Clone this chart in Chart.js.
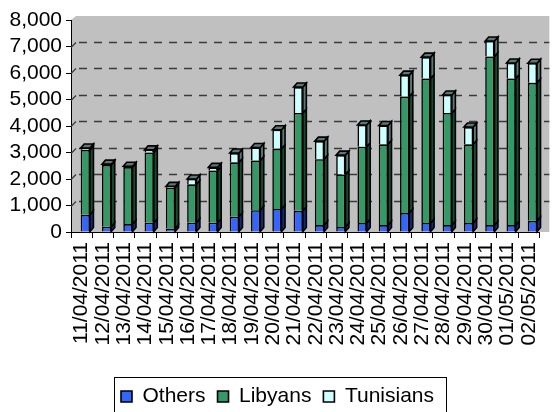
<!DOCTYPE html>
<html><head><meta charset="utf-8">
<script src="https://cdn.jsdelivr.net/npm/chart.js@4"></script>
<style>html,body{margin:0;padding:0;background:#fff;overflow:hidden;}</style>
</head><body>
<canvas id="c" width="558" height="417" style="display:block"></canvas>
<script>
const categories = ['11/04/2011','12/04/2011','13/04/2011','14/04/2011','15/04/2011','16/04/2011','17/04/2011','18/04/2011','19/04/2011','20/04/2011','21/04/2011','22/04/2011','23/04/2011','24/04/2011','25/04/2011','26/04/2011','27/04/2011','28/04/2011','29/04/2011','30/04/2011','01/05/2011','02/05/2011'];
const others    = [650,200,300,350,130,350,350,580,820,870,800,260,190,340,260,720,340,260,340,260,260,420];
const libyans   = [2450,2330,2150,2650,1540,1450,1970,2050,1880,2270,3690,2490,1980,2880,3050,4390,5450,4230,2970,6360,5530,5210];
const tunisians = [70,30,30,100,50,200,120,350,490,720,980,680,730,820,710,810,810,680,650,590,590,740];
const yTicks = [0,1000,2000,3000,4000,5000,6000,7000,8000];
const seriesNames = ['Others', 'Libyans', 'Tunisians'];

const FONT = '"Liberation Sans", Arial, sans-serif';
const DEPTH = 5;

const wallPlugin = {
  id: 'wall',
  beforeDraw(chart) {
    const {ctx, chartArea: a} = chart;
    ctx.save();
    ctx.fillStyle = '#C0C0C0';
    ctx.beginPath();
    ctx.moveTo(a.left, a.bottom);
    ctx.lineTo(a.left, a.top);
    ctx.lineTo(a.left + DEPTH, a.top - DEPTH + 1);
    ctx.lineTo(a.right + DEPTH + 5, a.top - DEPTH + 1);
    ctx.lineTo(a.right + DEPTH + 5, a.bottom);
    ctx.closePath();
    ctx.fill();
    ctx.restore();
  },
  beforeDatasetsDraw(chart) {
    const {ctx, chartArea: a} = chart;
    const ys = chart.scales.y;
    ctx.save();
    ctx.strokeStyle = '#3a3a3a';
    ctx.lineWidth = 1.3;
    yTicks.forEach(v => {
      if (v === 0 || v === yTicks[yTicks.length - 1]) return;
      const py = Math.round(ys.getPixelForValue(v)) + 0.5;
      ctx.setLineDash([]);
      ctx.beginPath();
      ctx.moveTo(a.left, py);
      ctx.lineTo(a.left + DEPTH, py - DEPTH);
      ctx.stroke();
      ctx.setLineDash([8, 7]);
      ctx.beginPath();
      ctx.moveTo(a.left + DEPTH + 3, py - DEPTH);
      ctx.lineTo(a.right + DEPTH + 5, py - DEPTH);
      ctx.stroke();
    });
    ctx.restore();
  }
};

const sideColors = {Others: '#15297a', Libyans: '#174a31', Tunisians: '#5c7777'};
const bar3dPlugin = {
  id: 'bar3d',
  afterDatasetsDraw(chart) {
    const {ctx} = chart;
    const ds = chart.data.datasets;
    const real = ds.map((d, i) => i).filter(i => ds[i].stack === 'main');
    const topIdx = real[real.length - 1];
    const dx = 3.5, dy = 4;
    ctx.save();
    ctx.lineWidth = 1.6;
    ctx.strokeStyle = '#000';
    ctx.lineJoin = 'miter';
    real.forEach(i => {
      const meta = chart.getDatasetMeta(i);
      meta.data.forEach(bar => {
        const p = bar.getProps(['x', 'y', 'base', 'width'], true);
        const l = p.x - p.width / 2, r = p.x + p.width / 2;
        ctx.fillStyle = sideColors[ds[i].label];
        ctx.beginPath();
        ctx.moveTo(r, p.base);
        ctx.lineTo(r, p.y);
        ctx.lineTo(r + dx, p.y - dy);
        ctx.lineTo(r + dx, p.base - dy);
        ctx.closePath();
        ctx.fill();
        ctx.stroke();
        if (i === topIdx) {
          ctx.beginPath();
          ctx.moveTo(l, p.y);
          ctx.lineTo(l + dx, p.y - dy);
          ctx.lineTo(r + dx, p.y - dy);
          ctx.lineTo(r, p.y);
          ctx.closePath();
          ctx.fill();
          ctx.stroke();
        }
      });
    });
    ctx.restore();
  }
};

const legendBoxPlugin = {
  id: 'legendBox',
  afterDraw(chart) {
    const lg = chart.legend;
    if (!lg || !lg.legendHitBoxes || !lg.legendHitBoxes.length) return;
    const hb = lg.legendHitBoxes;
    const first = hb[0], last = hb[hb.length - 1];
    const ctx = chart.ctx;
    ctx.save();
    ctx.strokeStyle = '#000';
    ctx.lineWidth = 1;
    const left = Math.round(first.left - 7.5) + 0.5;
    const right = Math.round(last.left + last.width + 12) + 0.5;
    const top = Math.round(first.top - 9) + 0.5;
    ctx.strokeRect(left, top, right - left, chart.height + 5 - top);
    ctx.restore();
  }
};

new Chart(document.getElementById('c'), {
  type: 'bar',
  data: {
    labels: categories,
    datasets: [
      // empty spacer stack so the 3D bars sit right of the category centre, as in the original depth view
      {label: '', stack: 'pad', data: categories.map(() => null), backgroundColor: 'rgba(0,0,0,0)', borderWidth: 0},
      {label: seriesNames[0], stack: 'main', data: others, backgroundColor: '#3366FF', borderColor: '#000', borderWidth: 1.6},
      {label: seriesNames[1], stack: 'main', data: libyans, backgroundColor: '#339966', borderColor: '#000', borderWidth: 1.6},
      {label: seriesNames[2], stack: 'main', data: tunisians, backgroundColor: '#CCFFFF', borderColor: '#000', borderWidth: 1.6}
    ]
  },
  options: {
    responsive: false,
    animation: false,
    devicePixelRatio: 1,
    layout: {padding: {left: 0, right: 3, top: 20, bottom: 0}},
    datasets: {bar: {categoryPercentage: 0.69, barPercentage: 1.26}},
    plugins: {
      legend: {
        position: 'bottom',
        labels: {font: {family: FONT, size: 21}, color: '#000', boxWidth: 11, boxHeight: 11, padding: 12,
          filter: item => item.text !== ''}
      },
      tooltip: {enabled: false}
    },
    scales: {
      x: {
        stacked: true,
        grid: {display: true, drawOnChartArea: false, drawTicks: true, tickLength: 6, color: '#000', offset: true},
        border: {color: '#000', width: 1},
        ticks: {minRotation: 90, maxRotation: 90, autoSkip: false, padding: 4, color: '#000', font: {family: FONT, size: 21}},
        afterFit(s) { s.height = 142; }
      },
      y: {
        stacked: true,
        min: yTicks[0],
        max: yTicks[yTicks.length - 1],
        afterBuildTicks(s) { s.ticks = yTicks.map(v => ({value: v})); },
        grid: {display: true, drawOnChartArea: false, drawTicks: true, tickLength: 5, color: '#000'},
        border: {color: '#000', width: 1},
        ticks: {autoSkip: false, padding: 4, color: '#000', font: {family: FONT, size: 21},
          callback: v => v.toLocaleString('en-US')},
        afterFit(s) { s.width = 71; }
      }
    }
  },
  plugins: [wallPlugin, bar3dPlugin, legendBoxPlugin]
});
</script>
</body></html>
